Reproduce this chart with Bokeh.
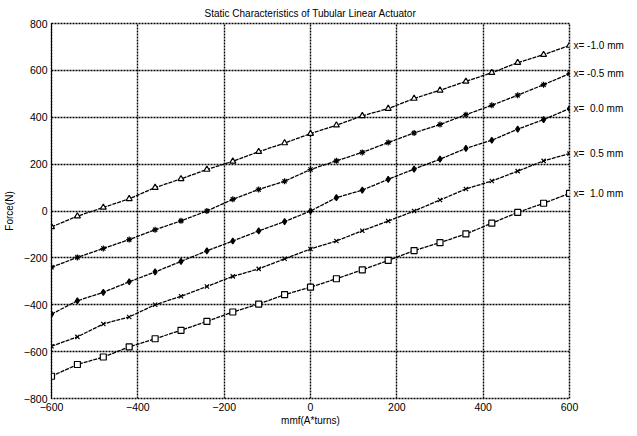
from bokeh.plotting import figure
from bokeh.models import FixedTicker, LinearAxis, Range1d
from bokeh.embed import file_html
from bokeh.resources import INLINE

mmf = [-600, -540, -480, -420, -360, -300, -240, -180, -120, -60, 0,
       60, 120, 180, 240, 300, 360, 420, 480, 540, 600]

f_m10 = [-68, -22, 15, 52, 100, 137, 177, 212, 253, 290, 330,
         366, 406, 437, 480, 515, 553, 590, 633, 667, 706]
f_m05 = [-240, -198, -160, -122, -80, -42, 0, 50, 92, 127, 177,
         214, 250, 292, 333, 369, 411, 451, 494, 539, 586]
f_p00 = [-440, -383, -347, -302, -260, -215, -170, -128, -85, -45, 0,
         57, 89, 135, 179, 221, 267, 302, 349, 390, 437]
f_p05 = [-577, -537, -482, -452, -400, -364, -322, -279, -247, -204, -162,
         -128, -84, -43, 0, 47, 94, 128, 170, 214, 245]
f_p10 = [-705, -655, -623, -580, -545, -509, -471, -431, -397, -357, -325,
         -289, -251, -211, -169, -135, -98, -52, -6, 33, 75]

series_labels = ["x= -1.0 mm", "x= -0.5 mm", "x=\u00a0 0.0 mm", "x=\u00a0 0.5 mm", "x=\u00a0 1.0 mm"]
series_values = [f_m10, f_m05, f_p00, f_p05, f_p10]
markers = ["triangle", "asterisk", "diamond", "x", "square"]
fills = [None, "black", "black", None, None]

x_ticks = [-600, -400, -200, 0, 200, 400, 600]
y_ticks = [-800, -600, -400, -200, 0, 200, 400, 600, 800]

title_text = "Static Characteristics of Tubular Linear Actuator"
FONT = "Liberation Sans"

p = figure(frame_width=518, frame_height=375,
           min_border_left=44, min_border_right=0,
           min_border_top=16, min_border_bottom=29,
           x_range=Range1d(-600, 600), y_range=Range1d(-800, 800),
           title=title_text,
           output_backend="svg", toolbar_location=None)
p.title.align = "center"
p.title.text_font = FONT
p.title.text_font_size = "10px"
p.title.text_font_style = "normal"
p.title.text_color = "black"
p.title.standoff = 10
p.title.offset = 0

p.background_fill_color = "white"
p.border_fill_color = "white"
p.outline_line_color = "black"
p.outline_line_width = 1.5
p.outline_line_dash = "2 1"

for g in (p.xgrid, p.ygrid):
    g.grid_line_color = "black"
    g.grid_line_width = 1.4
    g.grid_line_dash = "2 1"
    g.grid_line_alpha = 1.0

p.xaxis.ticker = FixedTicker(ticks=x_ticks)
p.yaxis.ticker = FixedTicker(ticks=y_ticks)
for ax in (p.xaxis, p.yaxis):
    ax.major_tick_in = 0
    ax.major_tick_out = 0
    ax.minor_tick_in = 0
    ax.minor_tick_out = 0
    ax.major_label_text_font = FONT
    ax.major_label_text_font_size = "10.5px"
    ax.major_label_text_color = "black"
    ax.axis_label_text_font = FONT
    ax.axis_label_text_font_size = "10px"
    ax.axis_label_text_font_style = "normal"
    ax.axis_label_text_color = "black"
    ax.major_label_standoff = 4
p.xaxis.axis_line_color = None
p.yaxis.axis_line_color = "black"
p.yaxis.axis_line_width = 1
p.xaxis.axis_label = "mmf(A*turns)"
p.yaxis.axis_label = "Force(N)"
p.xaxis.axis_label_standoff = 1
p.yaxis.axis_label_standoff = 6

# right-hand curve labels, placed at each curve's last value
end_values = [vals[-1] for vals in series_values]
right_axis = LinearAxis(ticker=FixedTicker(ticks=end_values),
                        major_label_overrides={v: lab for v, lab in zip(end_values, series_labels)})
right_axis.axis_line_color = None
right_axis.major_tick_in = 0
right_axis.major_tick_out = 0
right_axis.minor_tick_in = 0
right_axis.minor_tick_out = 0
right_axis.major_label_standoff = 4
right_axis.major_label_text_font = FONT
right_axis.major_label_text_font_size = "10px"
right_axis.major_label_text_color = "black"
p.add_layout(right_axis, "right")

for vals, mk, fc in zip(series_values, markers, fills):
    p.line(mmf, vals, line_color="black", line_width=1.3, line_dash="4 1")
    p.scatter(mmf, vals, marker=mk, size=6, line_color="black", line_width=1.2,
              fill_color=fc if fc else "white")

open("out.html", "w").write(file_html(p, INLINE))
